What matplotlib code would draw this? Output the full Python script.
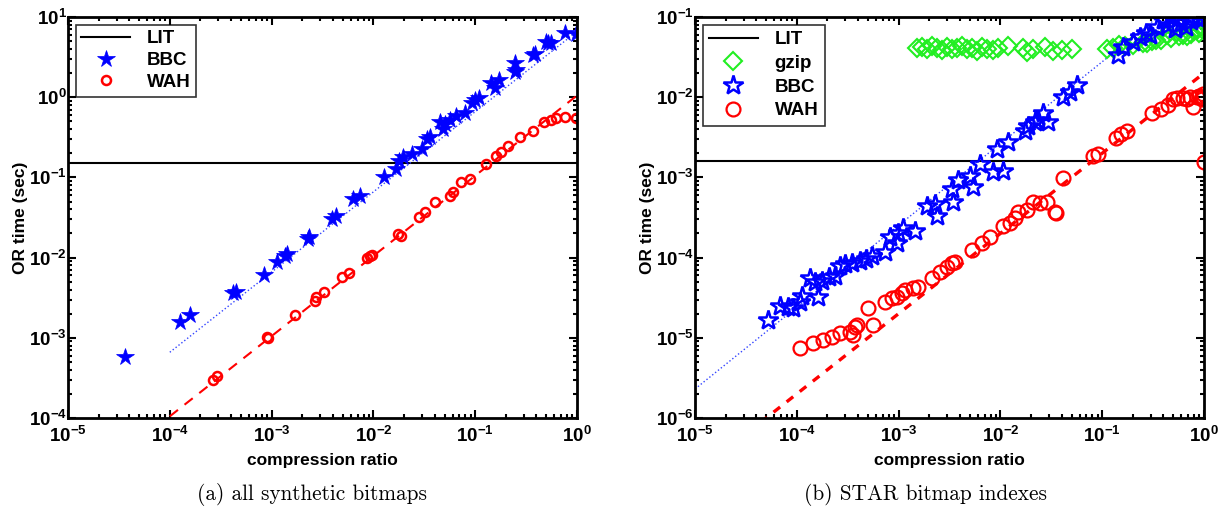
import numpy as np
import matplotlib
matplotlib.use("Agg")
import matplotlib.pyplot as plt
from matplotlib.ticker import LogLocator, FuncFormatter, NullFormatter

plt.rcParams['font.family'] = ['Liberation Sans', 'DejaVu Sans']
plt.rcParams['font.weight'] = 'bold'
plt.rcParams['mathtext.fontset'] = 'custom'
plt.rcParams['mathtext.bf'] = 'Liberation Sans:bold'
plt.rcParams['mathtext.rm'] = 'Liberation Sans:bold'

# ---------------- (a) all synthetic bitmaps ----------------
a_bbc_x = [3.63e-5, 1.26e-4, 1.58e-4, 4.13e-4, 4.43e-4, 8.34e-4, 1.13e-3, 1.36e-3, 1.43e-3,
           2.28e-3, 2.35e-3, 3.9e-3, 4.29e-3, 6.24e-3, 7.34e-3, 1.26e-2, 1.66e-2, 1.79e-2,
           1.96e-2, 2.37e-2, 3.0e-2, 3.35e-2, 3.6e-2, 4.8e-2, 4.56e-2, 5.0e-2, 5.6e-2, 6.5e-2,
           8.0e-2, 9.2e-2, 0.108, 0.10, 0.144, 0.155, 0.17, 0.245, 0.25, 0.245, 0.366, 0.39,
           0.495, 0.52, 0.55, 0.755, 0.98]
a_bbc_y = [5.8e-4, 1.58e-3, 1.92e-3, 3.67e-3, 3.77e-3, 6.12e-3, 8.9e-3, 1.05e-2, 1.11e-2,
           1.71e-2, 1.81e-2, 3.0e-2, 3.3e-2, 5.37e-2, 5.85e-2, 0.100, 0.126, 0.159,
           0.178, 0.194, 0.224, 0.298, 0.315, 0.396, 0.497, 0.457, 0.527, 0.575,
           0.644, 0.857, 0.99, 0.92, 1.52, 1.31, 1.65, 2.7, 2.2, 2.07, 3.4, 3.5,
           4.9, 4.8, 4.7, 6.3, 6.2]
a_wah_x = [2.65e-4, 2.9e-4, 8.94e-4, 9.3e-4, 1.68e-3, 2.69e-3, 2.75e-3, 3.24e-3, 4.93e-3,
           5.81e-3, 8.65e-3, 9.72e-3, 9.27e-3, 1.75e-2, 1.87e-2, 2.79e-2, 3.21e-2, 4.05e-2,
           5.62e-2, 6.03e-2, 7.27e-2, 8.98e-2, 0.128, 0.161, 0.181, 0.208, 0.276, 0.366,
           0.473, 0.557, 0.627, 0.755, 0.98]
a_wah_y = [2.96e-4, 3.32e-4, 1.01e-3, 1.0e-3, 1.9e-3, 2.91e-3, 3.27e-3, 3.77e-3, 5.78e-3,
           6.48e-3, 9.95e-3, 1.08e-2, 1.05e-2, 1.96e-2, 1.86e-2, 3.2e-2, 3.7e-2, 4.92e-2,
           5.85e-2, 6.55e-2, 8.7e-2, 9.5e-2, 0.146, 0.183, 0.205, 0.244, 0.315, 0.374,
           0.484, 0.527, 0.558, 0.574, 0.558]
a_lit = 0.15
a_bbc_fit = (6.6, 1.0)     # y = c * x**p
a_wah_fit = (1.05, 1.0)

# ---------------- (b) STAR bitmap indexes ----------------
b_gzip_x = [1.51e-3, 1.69e-3, 1.89e-3, 2.11e-3, 2.37e-3, 2.65e-3, 2.97e-3, 3.33e-3, 3.72e-3,
            4.17e-3, 4.67e-3, 5.22e-3, 5.85e-3, 6.55e-3, 7.33e-3, 8.53e-3, 9.55e-3, 1.2e-2,
            1.68e-2, 1.81e-2, 2.1e-2, 2.74e-2, 3.31e-2, 4.0e-2, 5.01e-2,
            0.111, 0.127, 0.146, 0.169, 0.2, 0.253, 0.278, 0.31, 0.34, 0.379, 0.43, 0.47,
            0.54, 0.568, 0.62, 0.68, 0.75, 0.8, 0.851, 0.9, 0.95, 0.98]
b_gzip_y = [0.041, 0.042, 0.040, 0.043, 0.041, 0.039, 0.042, 0.040, 0.041,
            0.043, 0.040, 0.041, 0.038, 0.042, 0.040, 0.039, 0.041, 0.043,
            0.041, 0.037, 0.040, 0.042, 0.038, 0.039, 0.040,
            0.0395, 0.041, 0.0447, 0.043, 0.045, 0.0473, 0.047, 0.050, 0.0517, 0.052, 0.0597, 0.055,
            0.0656, 0.0573, 0.06, 0.058, 0.062, 0.066, 0.0695, 0.064, 0.07, 0.075]
b_bbc_x = [5.21e-5, 6.84e-5, 8.2e-5, 9.18e-5, 1.07e-4, 1.12e-4, 1.62e-4, 1.35e-4, 1.51e-4,
           1.77e-4, 2.07e-4, 2.37e-4, 2.66e-4, 2.97e-4, 3.49e-4, 4.18e-4, 4.79e-4, 5.48e-4,
           7.35e-4, 8.24e-4, 9.64e-4, 9.86e-4, 1.1e-3, 1.45e-3, 1.9e-3, 2.28e-3, 2.38e-3,
           3.42e-3, 3.35e-3, 3.83e-3, 5.02e-3, 5.38e-3, 6.31e-3, 8.46e-3, 1.06e-2, 9.27e-3,
           1.19e-2, 1.75e-2, 1.87e-2, 2.19e-2, 2.34e-2, 2.62e-2, 2.94e-2, 4.12e-2, 4.83e-2,
           5.65e-2, 0.143, 0.16, 0.201, 0.234, 0.27, 0.295, 0.344, 0.395, 0.408, 0.439,
           0.463, 0.496, 0.52, 0.559, 0.6, 0.662, 0.713, 0.75, 0.844, 0.95, 0.98]
b_bbc_y = [1.69e-5, 2.52e-5, 2.45e-5, 2.32e-5, 2.83e-5, 3.36e-5, 3.27e-5, 5.61e-5, 5.01e-5,
           5.15e-5, 5.78e-5, 5.94e-5, 7.91e-5, 8.38e-5, 8.61e-5, 9.12e-5, 9.66e-5, 1.05e-4,
           1.18e-4, 1.81e-4, 1.53e-4, 2.03e-4, 2.34e-4, 2.15e-4, 4.4e-4, 4.65e-4, 3.3e-4,
           4.92e-4, 7.14e-4, 9.23e-4, 1.04e-3, 7.55e-4, 1.46e-3, 1.16e-3, 1.19e-3, 2.24e-3,
           2.74e-3, 3.74e-3, 4.32e-3, 4.84e-3, 5.27e-3, 6.44e-3, 4.84e-3, 1.02e-2, 1.17e-2,
           1.43e-2, 3.4e-2, 4.25e-2, 4.9e-2, 5.65e-2, 6.33e-2, 5.98e-2, 7.51e-2, 9.2e-2, 9.18e-2, 7.96e-2,
           0.1, 0.1, 0.07, 9.72e-2, 0.085, 7.51e-2, 0.1, 0.09, 9.72e-2, 0.095, 0.1]
b_wah_x = [1.07e-4, 1.45e-4, 1.82e-4, 2.2e-4, 2.66e-4, 3.33e-4, 3.73e-4, 3.59e-4, 3.87e-4,
           5.04e-4, 5.64e-4, 7.35e-4, 8.55e-4, 9.57e-4, 1.07e-3, 1.16e-3, 1.39e-3, 1.56e-3,
           2.11e-3, 2.55e-3, 2.97e-3, 3.33e-3, 3.58e-3, 5.22e-3, 6.55e-3, 7.91e-3, 1.07e-2,
           1.24e-2, 1.39e-2, 1.5e-2, 1.81e-2, 2.1e-2, 2.45e-2, 2.85e-2, 3.44e-2, 3.5e-2,
           4.15e-2, 8.04e-2, 9.16e-2, 0.137, 0.153, 0.174, 0.306, 0.377, 0.443, 0.496, 0.543,
           0.62, 0.68, 0.723, 0.784, 0.851, 0.9, 0.95, 0.96, 0.98, 1.0]
b_wah_y = [7.4e-6, 8.54e-6, 9.39e-6, 1.03e-5, 1.14e-5, 1.19e-5, 1.37e-5, 1.08e-5, 1.44e-5,
           2.33e-5, 1.44e-5, 2.82e-5, 3.1e-5, 3.26e-5, 3.59e-5, 3.94e-5, 4.14e-5, 4.34e-5,
           5.52e-5, 6.67e-5, 7.71e-5, 8.49e-5, 8.89e-5, 1.24e-4, 1.51e-4, 1.82e-4, 2.48e-4,
           2.68e-4, 3.09e-4, 3.73e-4, 3.92e-4, 4.98e-4, 4.75e-4, 4.98e-4, 3.73e-4, 3.6e-4,
           9.97e-4, 1.86e-3, 1.96e-3, 3.07e-3, 3.48e-3, 3.81e-3, 6.3e-3, 7.13e-3, 8.0e-3, 9.5e-3, 9.9e-3,
           9.7e-3, 9.5e-3, 1.02e-2, 7.64e-3, 1.02e-2, 1.05e-2, 9.5e-3, 1.02e-2, 1.1e-2, 1.57e-3]
b_lit = 1.6e-3
b_bbc_fit = (2.3e-6, 1.02, 1e-5)   # y = c * (x/x0)**p
b_wah_fit = (0.02, 1.0)

captions = ["(a) all synthetic bitmaps", "(b) STAR bitmap indexes"]

fig = plt.figure(figsize=(12.25, 5.14), dpi=100)
axL = fig.add_axes([68/1225, 96/514, 509/1225, 401/514])
axR = fig.add_axes([695/1225, 96/514, 509/1225, 401/514])

def fmt(v, pos):
    e = int(round(np.log10(v)))
    return r'$\mathbf{10^{%d}}$' % e

def style(ax, ylim):
    ax.set_xscale('log')
    ax.set_yscale('log')
    ax.set_xlim(1e-5, 1)
    ax.set_ylim(*ylim)
    ax.xaxis.set_major_locator(LogLocator(base=10, numticks=10))
    ax.yaxis.set_major_locator(LogLocator(base=10, numticks=10))
    ax.xaxis.set_minor_locator(LogLocator(base=10, subs=np.arange(2, 10), numticks=10))
    ax.yaxis.set_minor_locator(LogLocator(base=10, subs=np.arange(2, 10), numticks=10))
    ax.xaxis.set_major_formatter(FuncFormatter(fmt))
    ax.yaxis.set_major_formatter(FuncFormatter(fmt))
    ax.xaxis.set_minor_formatter(NullFormatter())
    ax.yaxis.set_minor_formatter(NullFormatter())
    ax.tick_params(which='both', direction='in', top=True, right=True, width=1.5)
    ax.tick_params(which='major', length=6, labelsize=13.5)
    ax.tick_params(which='minor', length=3)
    ax.tick_params(axis='x', which='major', pad=6)
    ax.tick_params(axis='y', which='major', pad=1)
    for s in ax.spines.values():
        s.set_linewidth(2)
    ax.set_xlabel('compression ratio', fontsize=12.5, fontweight='bold')
    ax.set_ylabel('OR time (sec)', fontsize=12.5, fontweight='bold')
    ax.xaxis.set_label_coords(0.5, -0.088)
    ax.yaxis.set_label_coords(-0.078, 0.5)

# left panel
xs = np.logspace(-4, 0, 100)
axL.axhline(a_lit, color='black', lw=1.5, label='LIT')
axL.plot(xs, a_bbc_fit[0] * xs ** a_bbc_fit[1], ':', color='#3344ff', lw=1.0)
axL.plot(xs, a_wah_fit[0] * xs ** a_wah_fit[1], '--', color='red', lw=1.5, dashes=(5, 4))
axL.plot(a_bbc_x, a_bbc_y, '*', color='blue', ms=13, mew=0.5, ls='none', label='BBC')
axL.plot(a_wah_x, a_wah_y, 'o', mfc='none', mec='red', ms=6.5, mew=1.8, ls='none', label='WAH')
style(axL, (1e-4, 10))
legL = axL.legend(loc='upper left', bbox_to_anchor=(0.0, 1.0), fontsize=13.5, frameon=True,
                  fancybox=False, edgecolor='black', borderaxespad=0.4, handlelength=2.6,
                  handletextpad=0.9, labelspacing=0.25, borderpad=0.3)
legL.get_frame().set_linewidth(1.2)
for t in legL.get_texts():
    t.set_fontweight('bold')

# right panel
xs2 = np.logspace(-5, 0, 200)
axR.axhline(b_lit, color='black', lw=1.5, label='LIT')
axR.plot(xs2, b_bbc_fit[0] * (xs2 / b_bbc_fit[2]) ** b_bbc_fit[1], ':', color='#3344ff', lw=1.0)
axR.plot(xs2, b_wah_fit[0] * xs2 ** b_wah_fit[1], '--', color='red', lw=2.4, dashes=(2.5, 2.5))
axR.plot(b_gzip_x, b_gzip_y, 'D', mfc='none', mec='#22ee22', ms=9, mew=1.5, ls='none', label='gzip')
axR.plot(b_bbc_x, b_bbc_y, '*', mfc='none', mec='blue', ms=14.5, mew=1.8, ls='none', label='BBC')
axR.plot(b_wah_x, b_wah_y, 'o', mfc='none', mec='red', ms=10, mew=1.6, ls='none', label='WAH')
style(axR, (1e-6, 1e-1))
legR = axR.legend(loc='upper left', bbox_to_anchor=(0.0, 1.0), fontsize=13.5, frameon=True,
                  fancybox=False, edgecolor='black', borderaxespad=0.4, handlelength=2.6,
                  handletextpad=0.9, labelspacing=0.35, borderpad=0.35)
legR.get_frame().set_linewidth(1.2)
for t in legR.get_texts():
    t.set_fontweight('bold')

fig.text(312/1225, 1 - 494/514, captions[0], ha='center', va='center',
         fontsize=15.3, family='cmr10', fontweight='normal')
fig.text(926/1225, 1 - 494/514, captions[1], ha='center', va='center',
         fontsize=15.3, family='cmr10', fontweight='normal')

fig.savefig('out.png', dpi=100)
